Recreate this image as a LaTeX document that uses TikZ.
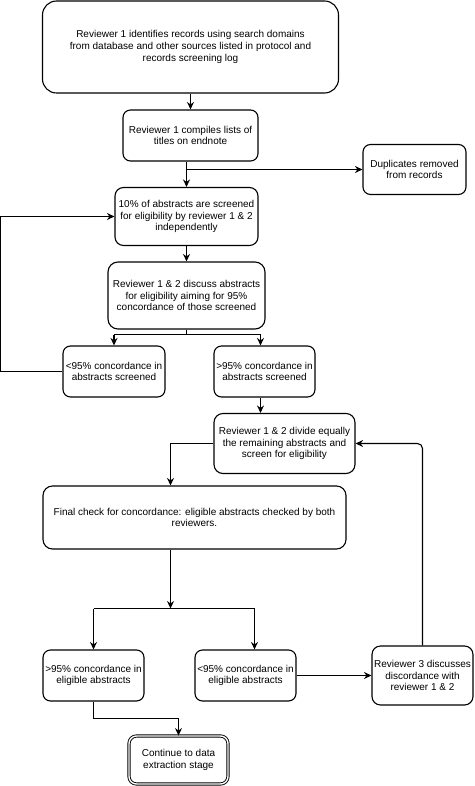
\documentclass[tikz,border=0pt]{standalone}
\usepackage{fontspec}
\setmainfont{Liberation Sans}
\usetikzlibrary{arrows.meta,calc}
\begin{document}
\begin{tikzpicture}[x=1pt,y=-1pt,
  box/.style={draw, line width=1.1pt, align=center, inner sep=0pt,
    font=\fontsize{10}{11.8}\selectfont},
  arr/.style={line width=1.1pt, -{Stealth[length=7.5pt,width=7pt,inset=2.5pt]}},
  ln/.style={line width=1.1pt}]
\useasboundingbox (0,0) rectangle (474,786);
\node[box, minimum width=296pt, minimum height=92pt, rounded corners=14pt] (n1) at (190.5,47)
  {Reviewer 1 identifies records using search domains\\from database and other sources listed in protocol and\\records screening log};
\node[box, minimum width=135pt, minimum height=51pt, rounded corners=7.5pt] (n2) at (190.5,135.5)
  {Reviewer 1 compiles lists of\\titles on endnote};
\node[box, minimum width=103pt, minimum height=50pt, rounded corners=7.5pt] (dup) at (414.5,169.5)
  {Duplicates removed\\from records};
\node[box, minimum width=143pt, minimum height=58pt, rounded corners=8.5pt] (n3) at (186.5,216.5)
  {10\% of abstracts are screened\\for eligibility by reviewer 1 \& 2\\independently};
\node[box, minimum width=157pt, minimum height=67pt, rounded corners=10pt] (n4) at (186.5,295.5)
  {Reviewer 1 \& 2 discuss abstracts\\for eligibility aiming for 95\%\\concordance of those screened};
\node[box, minimum width=102pt, minimum height=51pt, rounded corners=7.5pt] (n5) at (114,371.5)
  {<95\% concordance in\\abstracts screened};
\node[box, minimum width=101pt, minimum height=51pt, rounded corners=7.5pt] (n6) at (264.5,371.5)
  {>95\% concordance in\\abstracts screened};
\node[box, minimum width=141pt, minimum height=60pt, rounded corners=9pt] (n7) at (284.5,443.5)
  {Reviewer 1 \& 2 divide equally\\the remaining abstracts and\\screen for eligibility};
\node[box, minimum width=303pt, minimum height=63pt, rounded corners=9.5pt] (n8) at (194.5,517.5)
  {Final check for concordance: eligible abstracts checked by both\\reviewers.};
\node[box, minimum width=101pt, minimum height=51pt, rounded corners=7.5pt] (n9) at (93.5,675.5)
  {>95\% concordance in\\eligible abstracts};
\node[box, minimum width=101pt, minimum height=51pt, rounded corners=7.5pt] (n10) at (245.5,675.5)
  {<95\% concordance in\\eligible abstracts};
\node[box, minimum width=101pt, minimum height=59pt, rounded corners=8.5pt] (n11) at (422.5,675.5)
  {Reviewer 3 discusses\\discordance with\\reviewer 1 \& 2};
\node[box, minimum width=99pt, minimum height=48pt, rounded corners=7.5pt,
  double, line width=0.9pt, double distance=1.4pt] (n12) at (178.5,760)
  {Continue to data\\extraction stage};
% helper positions
\coordinate (x260) at (260.5,0);
\coordinate (x170) at (170.5,0);
\coordinate (x254) at (254.5,0);
\coordinate (jb) at (0,334.5);
\coordinate (jf) at (0,608.5);
% edges
\draw[arr] (n1.south) -- (n2.north);
\draw[arr] (n3.north |- n2.south) -- (n3.north);
\draw[arr] (n3.north |- dup.west) -- (dup.west);
\draw[arr] (n3.south) -- (n4.north);
\draw[ln] (n4.south) -- (n4.south |- jb);
\draw[ln] (n5.north |- jb) -- (x260 |- jb);
\draw[arr] (n5.north |- jb) -- (n5.north);
\draw[arr] (x260 |- jb) -- (x260 |- n6.north);
\draw[arr] (n5.west) -- ++(-62,0) |- (n3.west);
\draw[arr] (x260 |- n6.south) -- (x260 |- n7.north);
\draw[arr] (n7.west) -| (x170 |- n8.north);
\draw[arr, rounded corners=5pt] (n11.north) |- (n7.east);
\draw[arr] (x170 |- n8.south) -- (x170 |- jf);
\draw[ln] (n9.north |- jf) -- (x254 |- jf);
\draw[arr] (n9.north |- jf) -- (n9.north);
\draw[arr] (x254 |- jf) -- (x254 |- n10.north);
\draw[arr] (n10.east) -- (n11.west);
\draw[arr] (n9.south) -- ++(0,17) -| (n12.north);
\end{tikzpicture}
\end{document}
